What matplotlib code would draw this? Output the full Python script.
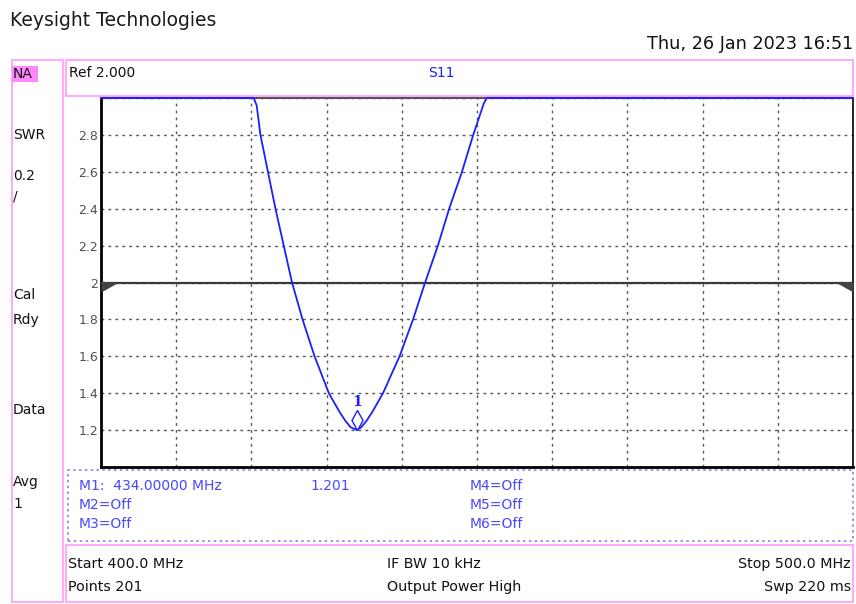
import matplotlib
matplotlib.use("Agg")
import matplotlib.pyplot as plt
from matplotlib.patches import Rectangle
from matplotlib.path import Path

plt.rcParams['font.family'] = ['DejaVu Sans']

# ---- data (frequency in MHz, displayed SWR, clipped at top of scale 3.0) ----
freq_mhz = [400.0, 420.3, 420.7, 421.2, 422.2, 423.2, 424.3, 425.4, 426.8,
            428.4, 430.3, 431.0, 431.7, 432.5, 433.2, 434.0, 434.6, 435.3,
            436.1, 436.8, 437.5, 439.7, 441.5, 443.1, 444.8, 446.3, 448.0,
            449.5, 450.9, 451.3, 500.0]
swr = [3.0, 3.0, 2.96, 2.8, 2.6, 2.4, 2.2, 2.0, 1.8,
       1.6, 1.4, 1.35, 1.30, 1.25, 1.215, 1.201, 1.215, 1.25,
       1.30, 1.35, 1.40, 1.60, 1.80, 2.0, 2.2, 2.4, 2.6,
       2.8, 2.97, 3.0, 3.0]

x_start, x_stop = 400.0, 500.0
y_min, y_max = 1.0, 3.0
ref_value = 2.0
marker_freq = 434.0
marker_value = 1.201

x_grid = [400, 410, 420, 430, 440, 450, 460, 470, 480, 490, 500]
y_ticks = [1.0, 1.2, 1.4, 1.6, 1.8, 2.0, 2.2, 2.4, 2.6, 2.8, 3.0]
y_tick_labels = ["", "1.2", "1.4", "1.6", "1.8", "2", "2.2", "2.4", "2.6", "2.8", ""]

left_panel = ["SWR", "0.2", "/", "Cal", "Rdy", "Data", "Avg", "1"]
marker_rows = [["M1:  434.00000 MHz", "1.201", "M4=Off"],
               ["M2=Off", "", "M5=Off"],
               ["M3=Off", "", "M6=Off"]]
footer = [["Start 400.0 MHz", "IF BW 10 kHz", "Stop 500.0 MHz"],
          ["Points 201", "Output Power High", "Swp 220 ms"]]

W, H = 856, 604
fig = plt.figure(figsize=(W / 100, H / 100), dpi=100)

def fx(x):
    return x / W

def fy(y):
    return 1 - y / H

PINK = '#ff99ff'
BLUE = '#1e1eff'
MBLUE = '#4848ff'

# ---- main axes ----
ax = fig.add_axes([fx(101), fy(467), (853 - 101) / W, (467 - 98) / H])
ax.set_xlim(x_start, x_stop)
ax.set_ylim(y_min, y_max)
ax.set_xticks(x_grid)
ax.set_xticklabels([])
ax.set_yticks(y_ticks)
ax.set_yticklabels(y_tick_labels, color='#505050', fontsize=9)
ax.tick_params(length=0, pad=2)
ax.grid(True, color='#555555', linestyle=(0, (2, 3)), linewidth=1.0)
for side, c, lw in [('left', 'black', 2.0), ('bottom', 'black', 2.0),
                    ('top', '#555555', 1.5), ('right', 'black', 1.2)]:
    ax.spines[side].set_color(c)
    ax.spines[side].set_linewidth(lw)

ax.axhline(ref_value, color='#3a3a3a', lw=1.6, zorder=3)

# reference wedges
lw_path = Path([(0, 2), (16, 0), (0, -9), (0, 2)], [1, 2, 2, 79])
rw_path = Path([(0, 2), (-16, 0), (0, -9), (0, 2)], [1, 2, 2, 79])
ax.plot([x_start], [ref_value], marker=lw_path, markersize=23, color='#444444',
        markeredgewidth=0, clip_on=False, zorder=4)
ax.plot([x_stop], [ref_value], marker=rw_path, markersize=23, color='#444444',
        markeredgewidth=0, clip_on=False, zorder=4)

# trace
ax.plot(freq_mhz, swr, color=BLUE, lw=1.3, clip_on=False, zorder=5,
        solid_joinstyle='round')

# marker diamond
dia = Path([(0, 0), (5.5, 10), (0, 20), (-5.5, 10), (0, 0)], [1, 2, 2, 2, 79])
ax.plot([marker_freq], [marker_value], marker=dia, markersize=28.8,
        markerfacecolor='white', markeredgecolor=BLUE, markeredgewidth=1.0, zorder=6)
ax.annotate("1", (marker_freq, marker_value), xytext=(0, 20), textcoords='offset points',
            ha='center', va='center', color=BLUE, fontsize=10, fontweight='bold',
            family='DejaVu Serif')

# ---- header ----
fig.text(fx(10), fy(20), "Keysight Technologies", fontsize=13.5, va='center', ha='left', color='#1a1a1a')
fig.text(fx(853), fy(44), "Thu, 26 Jan 2023 16:51", fontsize=12.7, va='center', ha='right', color='#111111')

# ---- boxes ----
def rect(x0, y0, x1, y1, **kw):
    r = Rectangle((fx(x0), fy(y1)), (x1 - x0) / W, (y1 - y0) / H,
                  transform=fig.transFigure, fill=False, **kw)
    fig.patches.append(r)

rect(12, 60, 63, 602, edgecolor=PINK, lw=1.2)
rect(66, 60, 853, 96, edgecolor=PINK, lw=1.2)
rect(68, 470, 853, 541, edgecolor='#9a7af0', lw=1.2, linestyle=(0, (1.5, 2)))
rect(66, 545, 853, 602, edgecolor=PINK, lw=1.2)

# NA highlight
fig.patches.append(Rectangle((fx(12), fy(82)), 26 / W, 16 / H, transform=fig.transFigure,
                             facecolor='#ff88ff', edgecolor='none'))
fig.text(fx(13), fy(74), "NA", fontsize=10, va='center', ha='left', color='#111111')

panel_y = [135, 176, 196, 295, 320, 410, 482, 504]
for t, y in zip(left_panel, panel_y):
    fig.text(fx(13), fy(y), t, fontsize=10, va='center', ha='left', color='#111111')

fig.text(fx(69), fy(73), "Ref 2.000", fontsize=10, va='center', ha='left', color='#111111')
fig.text(fx(428), fy(73), "S11", fontsize=10, va='center', ha='left', color=BLUE)

# marker table
col_x = [79, 310, 470]
row_y = [486, 505, 524]
for row, y in zip(marker_rows, row_y):
    for t, x in zip(row, col_x):
        if t:
            fig.text(fx(x), fy(y), t, fontsize=10, va='center', ha='left', color=MBLUE)

# footer
foot_y = [564, 587]
for row, y in zip(footer, foot_y):
    fig.text(fx(68), fy(y), row[0], fontsize=10.3, va='center', ha='left', color='#111111')
    fig.text(fx(387), fy(y), row[1], fontsize=10.3, va='center', ha='left', color='#111111')
    fig.text(fx(851), fy(y), row[2], fontsize=10.3, va='center', ha='right', color='#111111')

fig.savefig("out.png", dpi=100)
